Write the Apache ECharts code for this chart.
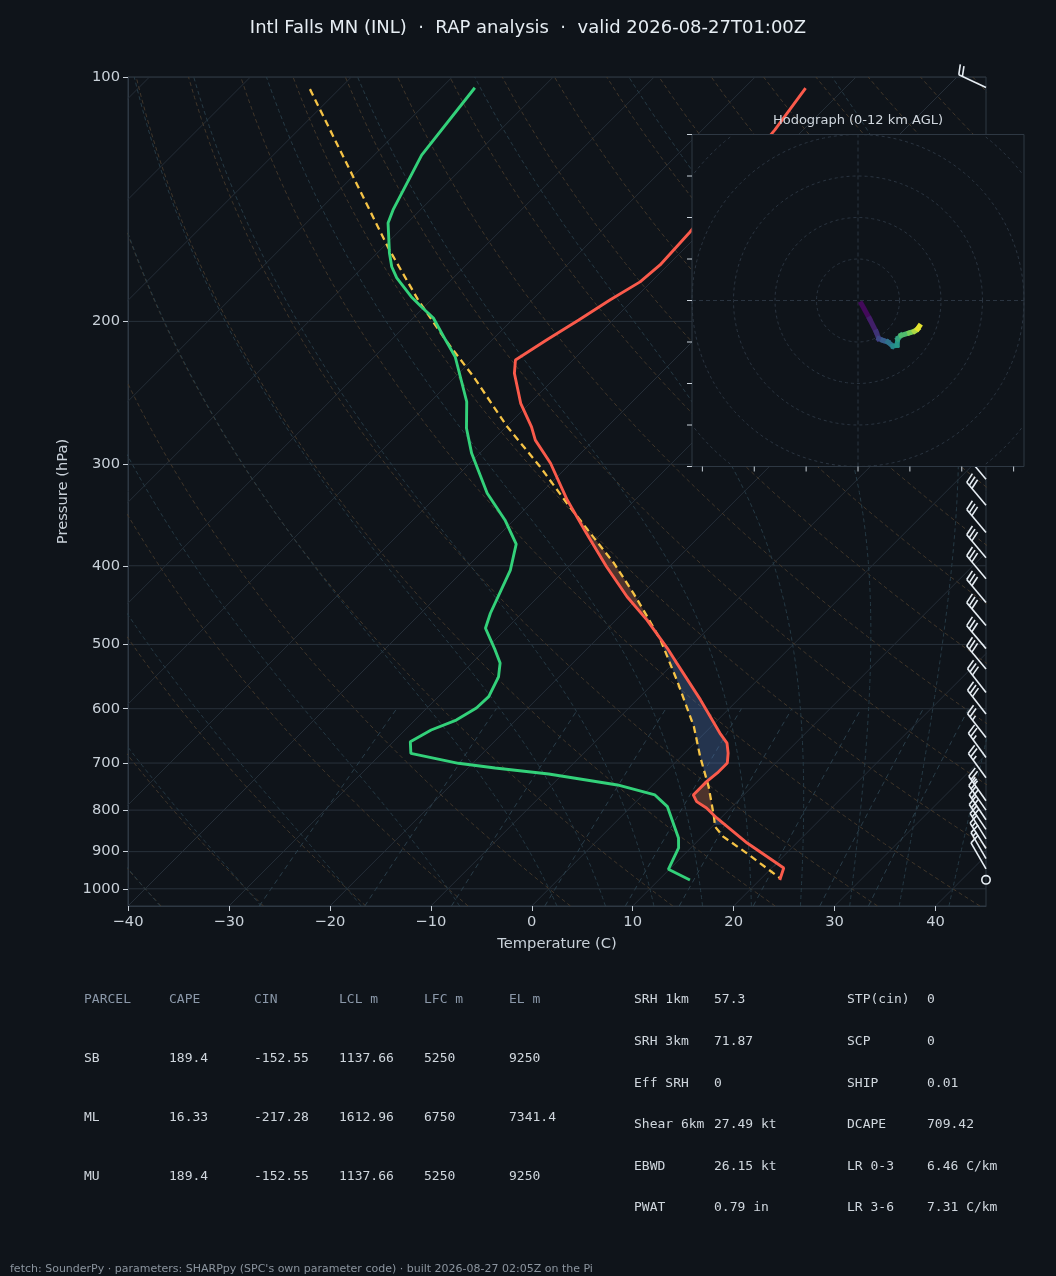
<!DOCTYPE html>
<html>
<head>
<meta charset="utf-8">
<script src="https://cdn.jsdelivr.net/npm/echarts@6/dist/echarts.min.js"></script>
<style>
html,body{margin:0;padding:0;background:#0f141a;}
#chart{width:1056px;height:1276px;}
</style>
</head>
<body>
<div id="chart"></div>
<script>
// ---- sounding (hPa, degC), top to bottom ----
var tempP = [103.2, 116.2, 155.2, 170.4, 178.8, 188.2, 199.2, 210.9, 223.2, 231.7, 252.3, 269.7, 280.1, 299.1, 332.0, 364.9, 401.1, 436.7, 466.7, 505.5, 527.2, 585.2, 642.9, 661.4, 680.4, 699.8, 719.9, 737.9, 766.3, 781.0, 795.1, 818.0, 878.2, 942.8, 975.5];
var tempC = [-53.9, -52.8, -51.1, -50.8, -51.1, -52.3, -53.4, -54.6, -55.7, -54.5, -50.9, -47.5, -45.8, -42.0, -36.7, -31.5, -26.2, -21.2, -16.9, -12.1, -9.7, -3.7, 1.5, 3.2, 4.3, 5.2, 5.2, 5.0, 5.0, 6.0, 7.6, 9.6, 15.1, 21.2, 22.0];

var dewP = [103.1, 124.8, 145.8, 151.3, 164.7, 171.3, 176.8, 186.5, 191.9, 198.1, 210.9, 221.1, 251.2, 270.8, 290.8, 325.7, 351.3, 376.1, 404.9, 457.7, 477.6, 507.9, 527.2, 548.1, 579.9, 598.8, 619.6, 637.4, 659.0, 681.0, 700.5, 709.9, 722.0, 744.9, 766.3, 792.2, 865.8, 890.7, 946.2, 975.5];
var dewC = [-86.7, -85.3, -82.7, -81.9, -78.8, -77.2, -75.6, -72.3, -70.3, -68.0, -64.6, -62.0, -56.4, -53.8, -50.8, -45.3, -40.9, -37.4, -35.4, -33.1, -32.1, -29.0, -27.2, -26.0, -25.0, -25.1, -25.9, -27.4, -28.3, -27.1, -21.4, -17.3, -11.4, -3.5, 1.2, 3.6, 7.8, 8.8, 9.9, 13.1];

var parcelP = [103.5, 162.4, 188.2, 210.9, 234.0, 269.7, 302.0, 335.1, 364.9, 397.2, 432.5, 462.3, 493.7, 553.3, 631.4, 687.6, 748.5, 815.0, 838.4, 862.5, 904.3, 969.9];
var parcelC = [-102.9, -79.4, -71.3, -64.6, -58.2, -49.9, -42.7, -36.4, -31.1, -25.8, -20.9, -17.2, -13.6, -8.0, -1.7, 1.9, 5.7, 9.2, 10.3, 12.1, 16.1, 21.8];

// wind barbs (hPa, kt, deg from)
var barbP   = [103, 313, 337, 364, 391, 415, 444, 474, 506, 536, 573, 609, 651, 689, 730, 779, 800, 822, 845, 868, 892, 918, 945, 975];
var barbSpd = [20, 30, 30, 30, 30, 30, 30, 30, 30, 30, 30, 30, 25, 25, 25, 25, 20, 20, 20, 20, 15, 15, 10, 0];
var barbDir = [295, 320, 320, 320, 320, 320, 320, 320, 320, 320, 322, 322, 322, 324, 324, 325, 325, 326, 326, 328, 328, 330, 330, 0];

// hodograph trace (u, v) and height km
var hodoU = [0.8, 2.8, 4.4, 5.0, 6.0, 7.2, 8.4, 9.4, 9.6, 10.4, 12.4, 13.6, 14.4, 14.8];
var hodoV = [-0.8, -4.4, -7.6, -9.2, -9.6, -10.0, -11.0, -10.8, -9.2, -8.4, -7.8, -7.4, -6.8, -6.2];
var hodoZ = [0, 0.7, 1.5, 2.2, 3, 4, 5, 6, 6.5, 7.5, 9, 10, 11, 12];
var hodoRings = [10, 20, 30, 40, 50];

// axes
var pressureTicks = [100, 200, 300, 400, 500, 600, 700, 800, 900, 1000];
var tempTicks = [-40, -30, -20, -10, 0, 10, 20, 30, 40];

// background reference lines
var isotherms = [-120, -110, -100, -90, -80, -70, -60, -50, -40, -30, -20, -10, 0, 10, 20, 30, 40];
var dryT0 = [];
for (var d0 = -40; d0 <= 250; d0 += 10) dryT0.push(d0);
var moistT0 = [-40, -30, -20, -10, 0, 5, 10, 15, 20, 25, 30, 35, 40, 45, 50, 55, 60];
var mixRatios = [0.0004, 0.001, 0.002, 0.004, 0.007, 0.01, 0.016, 0.024, 0.032];

// text blocks
var titleText = 'Intl Falls MN (INL)  \u00b7  RAP analysis  \u00b7  valid 2026-08-27T01:00Z';
var parcelHeader = ['PARCEL', 'CAPE', 'CIN', 'LCL m', 'LFC m', 'EL m'];
var parcelRows = [
    ['SB', '189.4', '-152.55', '1137.66', '5250', '9250'],
    ['ML', '16.33', '-217.28', '1612.96', '6750', '7341.4'],
    ['MU', '189.4', '-152.55', '1137.66', '5250', '9250']
];
var paramNames = ['SRH 1km', 'SRH 3km', 'Eff SRH', 'Shear 6km', 'EBWD', 'PWAT'];
var paramVals = ['57.3', '71.87', '0', '27.49 kt', '26.15 kt', '0.79 in'];
var paramNames2 = ['STP(cin)', 'SCP', 'SHIP', 'DCAPE', 'LR 0-3', 'LR 3-6'];
var paramVals2 = ['0', '0', '0.01', '709.42', '6.46 C/km', '7.31 C/km'];
var footText = "fetch: SounderPy \u00b7 parameters: SHARPpy (SPC's own parameter code) \u00b7 built 2026-08-27 02:05Z on the Pi";

// ---- layout / skew ----
var BG = '#0f141a', FRAME = '#2e3843', TXT = '#c9d1d9';
var FONT = '"DejaVu Sans", sans-serif', MONO = '"DejaVu Sans Mono", monospace';
var T_MIN = -40, T_MAX = 45;
var LOGP_BOT = Math.log10(1050), LOGP_TOP = 2;
var G = {left: 128, top: 77, width: 858, height: 829};
// degC per decade of pressure so that isotherms run at 45 degrees
var SKEW = (G.height / (LOGP_BOT - LOGP_TOP)) / (G.width / (T_MAX - T_MIN));

function pt(t, p) {
    return [t + SKEW * (LOGP_BOT - Math.log10(p)), Math.log10(p)];
}
function logSpace(p0, p1, n) {
    var out = [];
    for (var i = 0; i <= n; i++) out.push(Math.pow(10, Math.log10(p0) + (Math.log10(p1) - Math.log10(p0)) * i / n));
    return out;
}

// thermodynamics for the diagram lines
var Rd = 287.04749, Cp = 1004.6662, Lv = 2.50084e6, EPS = 0.6219569;
function satVap(tc) { return 6.112 * Math.exp(17.67 * tc / (tc + 243.5)); }
function dTdp(T, p) {
    var es = Math.min(satVap(T - 273.15), 0.6 * p);
    var rs = EPS * es / (p - es);
    return (Rd * T + Lv * rs) / (Cp + Lv * Lv * rs * EPS / (Rd * T * T)) / p;
}
function moistLine(t0) {
    var up = [], down = [], T, p, dp, k1, k2;
    T = t0 + 273.15; p = 1000;
    up.push(pt(T - 273.15, p));
    while (p > 100) {
        dp = -5; k1 = dTdp(T, p); k2 = dTdp(T + k1 * dp, p + dp);
        T += 0.5 * (k1 + k2) * dp; p += dp;
        up.push(pt(T - 273.15, p));
    }
    T = t0 + 273.15; p = 1000;
    while (p < 1050) {
        dp = 5; k1 = dTdp(T, p); k2 = dTdp(T + k1 * dp, p + dp);
        T += 0.5 * (k1 + k2) * dp; p += dp;
        down.push(pt(T - 273.15, p));
    }
    return down.reverse().concat(up);
}
function mixT(w, p) {
    var e = w * p / (EPS + w), l = Math.log(e / 6.112);
    return 243.5 * l / (17.67 - l);
}

var isothermLines = isotherms.map(function (t) {
    return {coords: [[t, LOGP_BOT], [t + SKEW * (LOGP_BOT - LOGP_TOP), LOGP_TOP]]};
});
var isobarLines = pressureTicks.map(function (p) {
    return {coords: [[T_MIN, Math.log10(p)], [T_MAX, Math.log10(p)]]};
});
var dryLines = dryT0.map(function (t0) {
    return {coords: logSpace(1050, 100, 40).map(function (p) {
        return pt((t0 + 273.15) * Math.pow(p / 1000, Rd / Cp) - 273.15, p);
    })};
});
var moistLines = moistT0.map(function (t0) { return {coords: moistLine(t0)}; });
var mixLines = mixRatios.map(function (w) {
    return {coords: logSpace(1050, 600, 12).map(function (p) { return pt(mixT(w, p), p); })};
});

// ---- CAPE / CIN areas between parcel and environment ----
function interpLogP(P, V, p) {
    if (p <= P[0]) return V[0];
    if (p >= P[P.length - 1]) return V[V.length - 1];
    for (var i = 1; i < P.length; i++) {
        if (p <= P[i]) {
            var a = Math.log(P[i - 1]), b = Math.log(P[i]);
            var f = (Math.log(p) - a) / (b - a);
            return V[i - 1] + f * (V[i] - V[i - 1]);
        }
    }
}
function areaPolys(pBot, pTop, sign) {
    var polys = [], cur = null;
    for (var p = pBot; p >= pTop; p -= 1) {
        var te = interpLogP(tempP, tempC, p), tp = interpLogP(parcelP, parcelC, p);
        if ((tp - te) * sign > 0) {
            if (!cur) cur = {env: [], par: []};
            cur.env.push(pt(te, p));
            cur.par.push(pt(tp, p));
        } else if (cur) {
            polys.push(cur.env.concat(cur.par.reverse()));
            cur = null;
        }
    }
    if (cur) polys.push(cur.env.concat(cur.par.reverse()));
    return polys;
}
// CIN shaded between the LCL and the LFC only, CAPE up to the EL
var capePolys = areaPolys(969, 200, 1);
var cinPolys = areaPolys(834, 485, -1);

function renderAreas(params, api) {
    var kids = [];
    function add(list, fill) {
        list.forEach(function (poly) {
            if (poly.length < 3) return;
            kids.push({type: 'polygon', shape: {points: poly.map(function (c) { return api.coord(c); })},
                style: {fill: fill, stroke: null}});
        });
    }
    add(cinPolys, 'rgba(80,120,190,0.32)');
    add(capePolys, 'rgba(200,110,80,0.34)');
    return {type: 'group', children: kids};
}

// ---- wind barbs ----
var BARB = '#e6edf3';
function renderBarb(params, api) {
    var c = api.coord([api.value(0), api.value(1)]);
    var spd = api.value(2), dir = api.value(3);
    var L = 30, H = 10, SP = 4, W = 6;
    var kids = [];
    if (spd < 2.5) {
        kids.push({type: 'circle', shape: {cx: c[0], cy: c[1], r: 4.2},
            style: {fill: null, stroke: BARB, lineWidth: 1.6}});
        return {type: 'group', children: kids};
    }
    var r = dir * Math.PI / 180;
    var s = [Math.sin(r), -Math.cos(r)];
    var f = [-s[1], s[0]];
    var tip = [c[0] + L * s[0], c[1] + L * s[1]];
    kids.push({type: 'line', shape: {x1: c[0], y1: c[1], x2: tip[0], y2: tip[1]},
        style: {stroke: BARB, lineWidth: 1.6}});
    var v = Math.round(spd / 5) * 5;
    var n50 = Math.floor(v / 50); v -= n50 * 50;
    var n10 = Math.floor(v / 10); v -= n10 * 10;
    var n5 = v >= 5 ? 1 : 0;
    var off = 0, i, b;
    for (i = 0; i < n50; i++) {
        b = [tip[0] - s[0] * off, tip[1] - s[1] * off];
        kids.push({type: 'polygon', shape: {points: [b, [b[0] + f[0] * H, b[1] + f[1] * H],
            [b[0] - s[0] * W, b[1] - s[1] * W]]}, style: {fill: BARB, stroke: BARB, lineWidth: 1}});
        off += W + SP * 0.5;
    }
    for (i = 0; i < n10; i++) {
        b = [tip[0] - s[0] * off, tip[1] - s[1] * off];
        kids.push({type: 'line', shape: {x1: b[0], y1: b[1],
            x2: b[0] + f[0] * H + s[0] * W / 2, y2: b[1] + f[1] * H + s[1] * W / 2},
            style: {stroke: BARB, lineWidth: 1.6}});
        off += SP;
    }
    if (n5) {
        if (off === 0) off = SP * 1.5;
        b = [tip[0] - s[0] * off, tip[1] - s[1] * off];
        kids.push({type: 'line', shape: {x1: b[0], y1: b[1],
            x2: b[0] + f[0] * H / 2 + s[0] * W / 4, y2: b[1] + f[1] * H / 2 + s[1] * W / 4},
            style: {stroke: BARB, lineWidth: 1.6}});
    }
    return {type: 'group', children: kids};
}

// ---- hodograph inset ----
var VIRIDIS = [[68, 1, 84], [59, 82, 139], [33, 145, 140], [94, 201, 98], [253, 231, 37]];
function viridis(t) {
    t = Math.max(0, Math.min(1, t)) * (VIRIDIS.length - 1);
    var i = Math.min(Math.floor(t), VIRIDIS.length - 2), f = t - i;
    var a = VIRIDIS[i], b = VIRIDIS[i + 1];
    return 'rgb(' + [0, 1, 2].map(function (k) { return Math.round(a[k] + f * (b[k] - a[k])); }).join(',') + ')';
}
function renderHodo(params, api) {
    var cs = params.coordSys, kids = [];
    var GRIDC = '#2a3440';
    kids.push({type: 'rect', shape: {x: cs.x, y: cs.y, width: cs.width, height: cs.height},
        style: {fill: BG, stroke: null}});
    hodoRings.forEach(function (ring) {
        var run = [];
        for (var a = 0; a <= 360; a += 2) {
            var u = ring * Math.cos(a * Math.PI / 180), v = ring * Math.sin(a * Math.PI / 180);
            if (Math.abs(u) <= 40.01 && Math.abs(v) <= 40.01) run.push(api.coord([u, v]));
            else {
                if (run.length > 1) kids.push({type: 'polyline', shape: {points: run},
                    style: {stroke: GRIDC, lineWidth: 1, lineDash: [3, 3], fill: null}});
                run = [];
            }
        }
        if (run.length > 1) kids.push({type: 'polyline', shape: {points: run},
            style: {stroke: GRIDC, lineWidth: 1, lineDash: [3, 3], fill: null}});
    });
    var h0 = api.coord([-40, 0]), h1 = api.coord([40, 0]);
    var v0 = api.coord([0, -40]), v1 = api.coord([0, 40]);
    kids.push({type: 'line', shape: {x1: h0[0], y1: h0[1], x2: h1[0], y2: h1[1]},
        style: {stroke: GRIDC, lineWidth: 1, lineDash: [4, 3]}});
    kids.push({type: 'line', shape: {x1: v0[0], y1: v0[1], x2: v1[0], y2: v1[1]},
        style: {stroke: GRIDC, lineWidth: 1, lineDash: [4, 3]}});
    kids.push({type: 'rect', shape: {x: cs.x, y: cs.y, width: cs.width, height: cs.height},
        style: {fill: null, stroke: FRAME, lineWidth: 1}});
    for (var tv = -40; tv <= 40; tv += 10) {
        var q = api.coord([-40, tv]);
        kids.push({type: 'line', shape: {x1: q[0] - 5, y1: q[1], x2: q[0], y2: q[1]},
            style: {stroke: TXT, lineWidth: 1}});
    }
    for (var tu = -37.5; tu <= 37.5; tu += 12.5) {
        var w = api.coord([tu, -40]);
        kids.push({type: 'line', shape: {x1: w[0], y1: w[1], x2: w[0], y2: w[1] + 5},
            style: {stroke: TXT, lineWidth: 1}});
    }
    for (var i = 0; i < hodoU.length - 1; i++) {
        var p0 = api.coord([hodoU[i], hodoV[i]]), p1 = api.coord([hodoU[i + 1], hodoV[i + 1]]);
        kids.push({type: 'line', shape: {x1: p0[0], y1: p0[1], x2: p1[0], y2: p1[1]},
            style: {stroke: viridis((hodoZ[i] + hodoZ[i + 1]) / 24), lineWidth: 5, lineCap: 'square'}});
    }
    return {type: 'group', children: kids};
}

// ---- text graphics ----
var graphics = [];
function txt(x, y, s, fill, font, align) {
    graphics.push({type: 'text', x: x, y: y, z: 100,
        style: {text: s, fill: fill, font: font, align: align || 'left', verticalAlign: 'middle'}});
}
var colX = [84, 169, 254, 339, 424, 509];
var rowY = [1000, 1059, 1118, 1177];
parcelHeader.forEach(function (h, j) { txt(colX[j], rowY[0], h, '#8b98a9', '13px ' + MONO); });
parcelRows.forEach(function (row, i) {
    row.forEach(function (c, j) { txt(colX[j], rowY[i + 1], c, '#d0d7de', '13px ' + MONO); });
});
var paramY = [1000, 1042, 1084, 1125, 1167, 1208];
paramNames.forEach(function (n, i) {
    txt(634, paramY[i], n, '#d0d7de', '13px ' + MONO);
    txt(714, paramY[i], paramVals[i], '#d0d7de', '13px ' + MONO);
    txt(847, paramY[i], paramNames2[i], '#d0d7de', '13px ' + MONO);
    txt(927, paramY[i], paramVals2[i], '#d0d7de', '13px ' + MONO);
});
txt(858, 121, 'Hodograph (0-12 km AGL)', '#d0d7de', '13px ' + FONT, 'center');
txt(10, 1269, footText, '#8b949e', '11px ' + FONT);

function profile(P, V) { return P.map(function (p, i) { return pt(V[i], p); }); }
function bgLines(data, color, dash) {
    return {type: 'lines', coordinateSystem: 'cartesian2d', xAxisIndex: 0, yAxisIndex: 0,
        polyline: true, silent: true, z: 1, clip: true, data: data,
        lineStyle: {color: color, width: 1, type: dash || 'solid', opacity: 1}};
}

var chart = echarts.init(document.getElementById('chart'));
var option = {
    backgroundColor: BG,
    animation: false,
    title: {text: titleText, left: 'center', top: 19, padding: 0,
        textStyle: {color: '#e6edf3', fontSize: 18, fontWeight: 'normal', fontFamily: FONT}},
    grid: [
        {left: G.left, top: G.top, width: G.width, height: G.height, show: true,
            borderColor: FRAME, borderWidth: 1, backgroundColor: 'transparent'},
        {left: 692, top: 134.5, width: 332, height: 332, show: false}
    ],
    xAxis: [
        {type: 'value', gridIndex: 0, min: T_MIN, max: T_MAX, interval: 10,
            name: 'Temperature (C)', nameLocation: 'middle', nameGap: 31,
            nameTextStyle: {color: TXT, fontSize: 14.7, fontFamily: FONT},
            axisLine: {show: true, onZero: false, lineStyle: {color: FRAME}},
            axisTick: {show: true, length: 5, interval: 0, customValues: tempTicks, lineStyle: {color: TXT}},
            axisLabel: {color: TXT, fontSize: 14.7, fontFamily: FONT, margin: 9, interval: 0,
                customValues: tempTicks,
                formatter: function (v) { return v < 0 ? '\u2212' + (-v) : String(v); }},
            splitLine: {show: false}},
        {type: 'value', gridIndex: 1, min: -40, max: 40, show: false}
    ],
    yAxis: [
        {type: 'value', gridIndex: 0, inverse: true, min: LOGP_TOP, max: LOGP_BOT, position: 'left',
            name: 'Pressure (hPa)', nameLocation: 'middle', nameGap: 57,
            nameTextStyle: {color: TXT, fontSize: 14.7, fontFamily: FONT},
            axisLine: {show: true, onZero: false, lineStyle: {color: FRAME}},
            axisTick: {show: true, length: 5, interval: 0, customValues: pressureTicks.map(Math.log10),
                lineStyle: {color: TXT}},
            axisLabel: {show: true, color: TXT, fontSize: 14.7, fontFamily: FONT, margin: 8, interval: 0,
                customValues: pressureTicks.map(Math.log10),
                formatter: function (v) { return String(Math.round(Math.pow(10, v))); }},
            splitLine: {show: false}},
        {type: 'value', gridIndex: 1, min: -40, max: 40, show: false}
    ],
    graphic: graphics,
    series: [
        bgLines(isobarLines, '#28313b'),
        bgLines(isothermLines, '#252e38'),
        bgLines(dryLines, '#40362a', [4, 3]),
        bgLines(moistLines, '#263a45', [4, 3]),
        bgLines(mixLines, '#2a3e4a', [5, 4]),
        {type: 'custom', xAxisIndex: 0, yAxisIndex: 0, z: 2, silent: true, clip: true,
            renderItem: renderAreas, data: [[0, 2]]},
        {type: 'line', name: 'Parcel', xAxisIndex: 0, yAxisIndex: 0, z: 3, showSymbol: false, silent: true,
            data: profile(parcelP, parcelC), lineStyle: {color: '#f5c346', width: 2.3, type: [7, 4.5]}},
        {type: 'line', name: 'Dewpoint', xAxisIndex: 0, yAxisIndex: 0, z: 3, showSymbol: false, silent: true,
            data: profile(dewP, dewC), lineStyle: {color: '#33d17a', width: 2.9}},
        {type: 'line', name: 'Temperature', xAxisIndex: 0, yAxisIndex: 0, z: 3, showSymbol: false, silent: true,
            data: profile(tempP, tempC), lineStyle: {color: '#fa5a4b', width: 2.9}},
        {type: 'custom', name: 'Wind', xAxisIndex: 0, yAxisIndex: 0, z: 4, silent: true, clip: false,
            renderItem: renderBarb,
            data: barbP.map(function (p, i) { return [T_MAX, Math.log10(p), barbSpd[i], barbDir[i]]; })},
        {type: 'custom', name: 'Hodograph', xAxisIndex: 1, yAxisIndex: 1, z: 10, silent: true, clip: false,
            renderItem: renderHodo, data: [[0, 0]]}
    ]
};
chart.setOption(option);
</script>
</body>
</html>
